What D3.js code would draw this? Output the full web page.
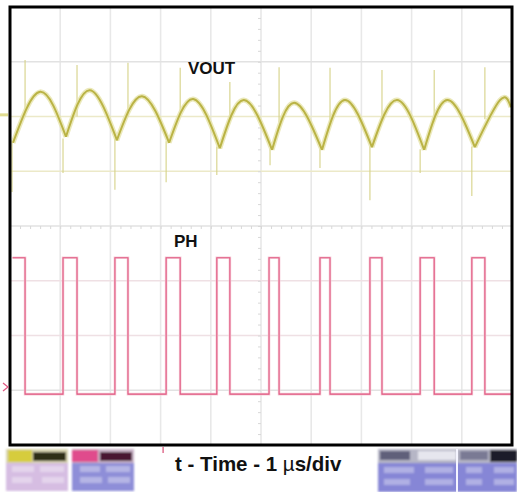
<!DOCTYPE html>
<html><head><meta charset="utf-8">
<script src="https://cdn.jsdelivr.net/npm/d3@7"></script>
<style>body{margin:0;background:#fff}svg{display:block}</style>
</head><body>
<svg id="c" width="517" height="492"></svg>
<script>
// ---- data (time in µs, amplitude in screen divisions) ----
const timeTicks = [0,1,2,3,4,5,6,7,8,9,10];
const divTicks  = [0,1,2,3,4,5,6,7,8];

// VOUT ripple: cusps (troughs) and rounded peaks
const voutCuspT = [0.06, 1.115, 2.13, 3.17, 4.18, 5.22, 6.215, 7.21, 8.25, 9.26];
const voutCuspV = [5.52, 5.63, 5.57, 5.52, 5.42, 5.39, 5.39, 5.44, 5.39, 5.44];
const voutPeakT = [0.60, 1.59, 2.63, 3.65, 4.66, 5.66, 6.67, 7.71, 8.71, 9.76];
const voutPeakV = [6.45, 6.48, 6.37, 6.32, 6.30, 6.25, 6.30, 6.30, 6.30, 6.30];
const voutEnd   = [9.98, 6.17];

// switching spikes on VOUT: [time, base, tip]
const spikeDown = [[0.04,5.55,4.62],[1.056,5.6,4.97],[2.09,5.6,4.66],[3.11,5.55,4.80],[4.12,5.45,4.93],
                   [5.18,5.4,5.11],[6.175,5.4,5.06],[7.17,5.45,4.47],[8.17,5.4,4.97],[9.20,5.45,4.55]];
const spikeUp   = [[0.30,6.0,7.03],[1.335,6.0,6.94],[2.35,6.0,6.98],[3.39,6.0,6.89],[4.38,5.95,6.63],
                   [5.36,5.9,6.90],[6.375,5.9,6.89],[7.41,5.95,6.85],[8.45,5.9,6.85],[9.46,5.95,6.90]];

// PH switch node: edge times and levels
const phT = [0.05, 0.30, 1.056, 1.335, 2.09, 2.35, 3.11, 3.39, 4.12, 4.38, 5.16, 5.36,
             6.175, 6.375, 7.17, 7.41, 8.17, 8.45, 9.20, 9.46, 9.98];
const phV = [3.42, 0.93, 3.42, 0.93, 3.42, 0.93, 3.42, 0.93, 3.42, 0.93, 3.42, 0.93,
             3.42, 0.93, 3.42, 0.93, 3.42, 0.93, 3.42, 0.93, 0.93];

const voutRef = 6.03, phRef = 1.06, trigT = 3.05;

// ---- drawing ----
const svg = d3.select("#c");
const x = d3.scaleLinear().domain([0,10]).range([10,512]);
const y = d3.scaleLinear().domain([0,8]).range([445,7]);

// grid
const g = svg.append("g");
g.selectAll("line.v").data(timeTicks.slice(1,-1)).join("line")
  .attr("x1",d=>x(d)).attr("x2",d=>x(d)).attr("y1",y(8)).attr("y2",y(0))
  .attr("stroke","#e8e8e8").attr("stroke-width",1.6);
g.selectAll("line.h").data(divTicks.slice(1,-1)).join("line")
  .attr("y1",d=>y(d)).attr("y2",d=>y(d)).attr("x1",x(0)).attr("x2",x(10))
  .attr("stroke",d=> (d===6||d===5) ? "#ece9c8" : (d===3||d===2) ? "#efe0e4" : "#e2e2e2")
  .attr("stroke-width",1.6);

// minor ticks on center cross via axes
const ax = svg.append("g").attr("transform",`translate(0,${y(4)})`)
  .call(d3.axisBottom(x).ticks(50).tickSize(3).tickFormat(""));
const ay = svg.append("g").attr("transform",`translate(${x(5)},0)`)
  .call(d3.axisLeft(y).ticks(40).tickSize(3).tickFormat(""));
[ax,ay].forEach(a=>{a.select(".domain").remove();a.selectAll("line").attr("stroke","#d8d8d8");});

// VOUT arcs
const line = d3.line().x(d=>x(d[0])).y(d=>y(d[1])).curve(d3.curveNatural);
let dPath = "";
voutCuspT.forEach((t,i)=>{
  const next = i+1 < voutCuspT.length ? [voutCuspT[i+1], voutCuspV[i+1]] : voutEnd;
  dPath += line([[t,voutCuspV[i]],[voutPeakT[i],voutPeakV[i]],next]);
});
svg.selectAll("line.sd").data(spikeDown.concat(spikeUp)).join("line")
  .attr("x1",d=>x(d[0])).attr("x2",d=>x(d[0])).attr("y1",d=>y(d[1])).attr("y2",d=>y(d[2]))
  .attr("stroke","#d6d288").attr("stroke-width",1.1);
svg.append("path").attr("d",dPath).attr("fill","none").attr("stroke","#e6e3aa").attr("stroke-width",5).attr("opacity",0.8);
svg.append("path").attr("d",dPath).attr("fill","none").attr("stroke","#bab345").attr("stroke-width",2);

// PH trace
const phLine = d3.line().x(d=>x(d[0])).y(d=>y(d[1])).curve(d3.curveStepAfter);
const phPts = phT.map((t,i)=>[t,phV[i]]);
svg.append("path").attr("d",phLine(phPts)).attr("fill","none").attr("stroke","#f6cdd8").attr("stroke-width",2.6);
svg.append("path").attr("d",phLine(phPts)).attr("fill","none").attr("stroke","#e0557f").attr("stroke-width",1.1);

// frame
svg.append("rect").attr("x",x(0)).attr("y",y(8)).attr("width",x(10)-x(0)).attr("height",y(0)-y(8))
  .attr("fill","none").attr("stroke","#000").attr("stroke-width",3);

// reference markers
svg.append("path").attr("d",`M0,${y(voutRef)}H8`).attr("stroke","#e0dc90").attr("stroke-width",3);
svg.append("path").attr("d",`M3,${y(phRef)-4}L8,${y(phRef)}L3,${y(phRef)+4}`).attr("fill","none").attr("stroke","#e05a85").attr("stroke-width",1.3);
svg.append("path").attr("d",`M${x(trigT)},447V453`).attr("stroke","#e07090").attr("stroke-width",1.5);

// labels
const font = "'Liberation Sans', Arial, Helvetica, sans-serif";
svg.append("text").attr("x",188).attr("y",74).text("VOUT")
  .attr("font-family",font).attr("font-weight","bold").attr("font-size",17).attr("fill","#111");
svg.append("text").attr("x",174).attr("y",247).text("PH")
  .attr("font-family",font).attr("font-weight","bold").attr("font-size",17).attr("fill","#111");
const tl = svg.append("text").attr("x",175).attr("y",471)
  .attr("font-family",font).attr("font-weight","bold").attr("font-size",20.5).attr("fill","#111");
tl.append("tspan").text("t - Time - 1 ");
tl.append("tspan").attr("font-weight","normal").text("µ");
tl.append("tspan").text("s/div");

// scope status boxes
const blur = svg.append("defs").append("filter").attr("id","bl");
blur.append("feGaussianBlur").attr("stdDeviation",1.2);
const sb = svg.append("g").attr("filter","url(#bl)");
const boxes = [
  [6,449,62,14,"#d8d4b0"],[8,450,24,12,"#d6cc3c"],[33,452,33,9,"#2e2e18"],[6,463,62,28,"#d6bde2"],
  [72,449,62,14,"#c9b4c8"],[72,450,26,12,"#e04c8c"],[100,452,32,9,"#4a1432"],[72,463,62,28,"#8e8ed8"],
  [378,449,139,14,"#b6b6c6"],[380,451,30,9,"#60607a"],[418,451,38,9,"#e6e6ee"],[460,451,28,9,"#7a7a94"],[490,450,27,12,"#1c1c2c"],
  [378,463,139,29,"#8686d6"]
];
sb.selectAll("rect").data(boxes).join("rect")
  .attr("x",d=>d[0]).attr("y",d=>d[1]).attr("width",d=>d[2]).attr("height",d=>d[3]).attr("fill",d=>d[4]);
const sm = [[12,466,22,6],[40,466,24,6],[12,477,20,6],[42,477,22,6],[80,466,20,6],[106,466,24,6],[80,477,22,6],[108,477,22,6],
            [384,467,30,6],[425,467,28,6],[466,467,16,6],[494,467,20,6],[384,479,26,6],[425,479,28,6],[466,479,16,6],[494,479,20,6]];
sb.selectAll("rect.s").data(sm).join("rect").attr("class","s")
  .attr("x",d=>d[0]).attr("y",d=>d[1]).attr("width",d=>d[2]).attr("height",d=>d[3]).attr("fill","#ffffff").attr("opacity",0.35);
svg.append("line").attr("x1",457).attr("x2",457).attr("y1",449).attr("y2",492).attr("stroke","#f4f4ff").attr("stroke-width",2);
</script>
</body></html>
